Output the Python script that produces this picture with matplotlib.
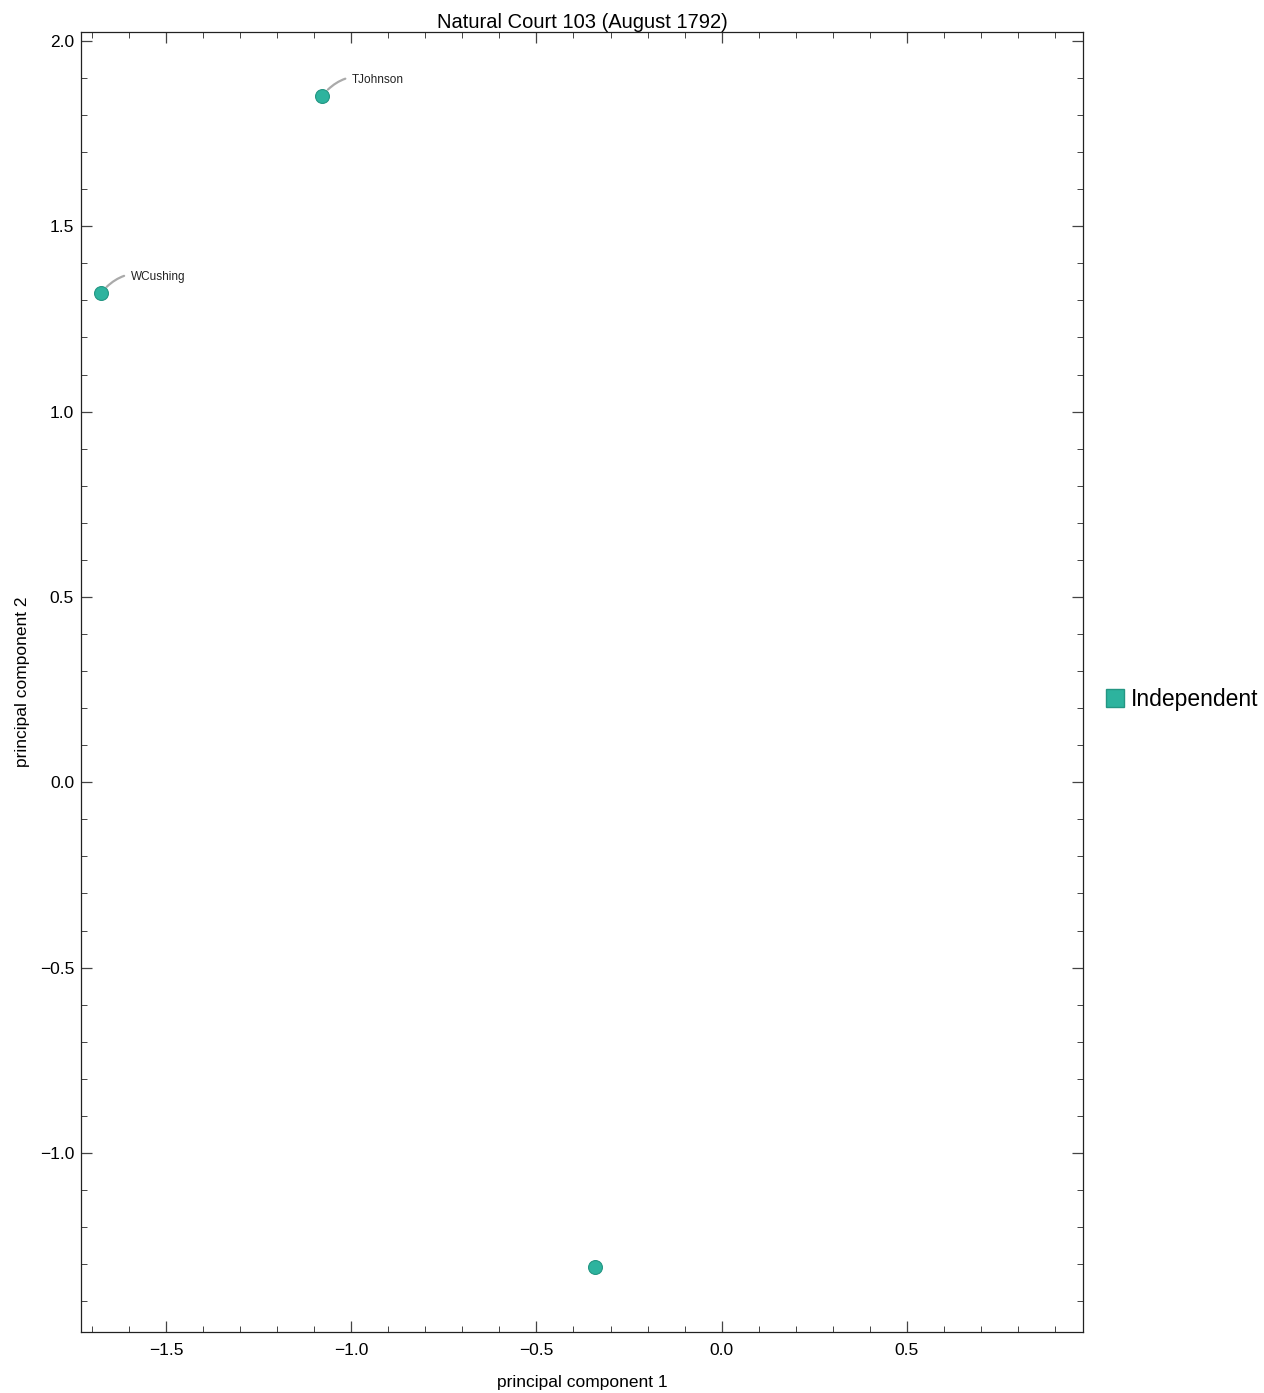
import matplotlib
matplotlib.use("Agg")
import matplotlib.pyplot as plt
from matplotlib.ticker import MultipleLocator
from matplotlib.lines import Line2D

plt.rcParams['font.family'] = ['Liberation Sans', 'DejaVu Sans']

names = ["TJohnson", "WCushing", ""]
pc1 = [-1.078, -1.675, -0.343]
pc2 = [1.852, 1.320, -1.308]
party = ["Independent", "Independent", "Independent"]
color = "#2db39e"

fig = plt.figure(figsize=(12.64, 13.93), dpi=100)
ax = fig.add_axes([0.0641, 0.0438, 0.7927, 0.9332])
ax.scatter(pc1, pc2, s=100, color=color, edgecolors="#249683", linewidths=0.8, zorder=3)

for x, y, n in zip(pc1, pc2, names):
    if n:
        ax.annotate(n, xy=(x, y), xytext=(21.5, 11.5), textcoords="offset points",
                    fontsize=8.5, color="#222222", va="center", ha="left",
                    arrowprops=dict(arrowstyle="-", color="#aaaaaa", lw=1.6,
                                    shrinkA=3, shrinkB=6,
                                    connectionstyle="arc3,rad=0.35"))

ax.set_xlim(-1.729, 0.975)
ax.set_ylim(-1.483, 2.024)
ax.xaxis.set_major_locator(MultipleLocator(0.5))
ax.xaxis.set_minor_locator(MultipleLocator(0.1))
ax.yaxis.set_major_locator(MultipleLocator(0.5))
ax.yaxis.set_minor_locator(MultipleLocator(0.1))
ax.tick_params(which="both", direction="in", top=True, right=True, labelsize=12.5, color="#444444")
ax.tick_params(which="major", length=8, width=0.9)
ax.tick_params(which="minor", length=4, width=0.7)
ax.tick_params(axis="x", which="major", pad=8)
ax.tick_params(axis="y", which="major", pad=5)
for s in ax.spines.values():
    s.set_linewidth(0.9)
    s.set_color("#222222")

ax.set_xlabel("principal component 1", fontsize=12.5, labelpad=12)
ax.set_ylabel("principal component 2", fontsize=12.5, labelpad=7)
ax.set_title("Natural Court 103 (August 1792)", fontsize=14.5, pad=1.5)

handles = [Line2D([0], [0], marker="s", linestyle="", markersize=13,
                  markerfacecolor=color, markeredgecolor="#249683", label="Independent")]
fig.legend(handles=handles, loc="center left", bbox_to_anchor=(0.857, 0.498),
           frameon=False, fontsize=16.5, handletextpad=0.2, handlelength=1.0)

fig.savefig("out.png", dpi=100)
